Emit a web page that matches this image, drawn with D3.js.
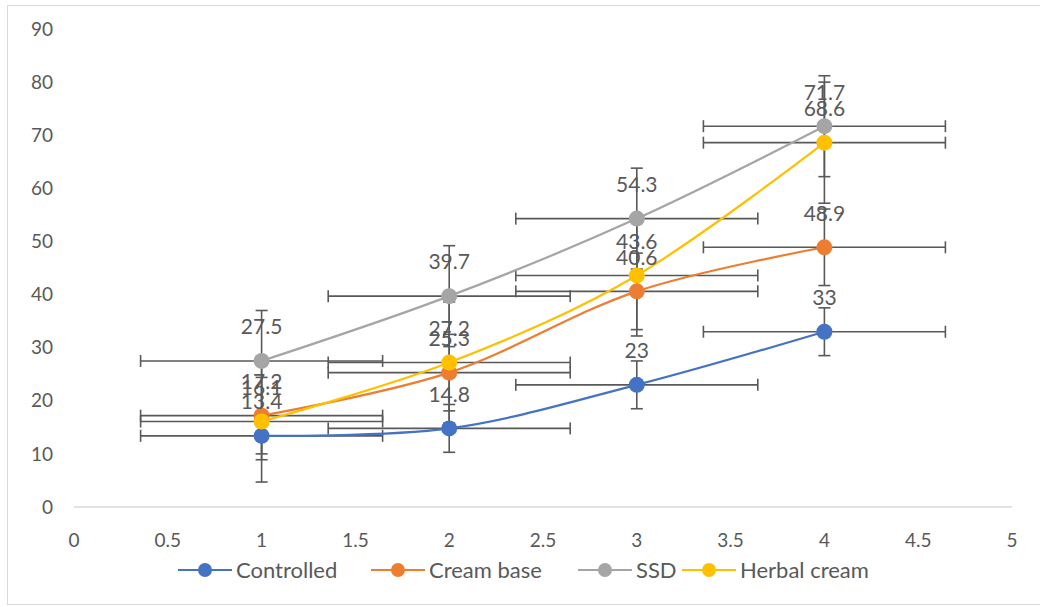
<!DOCTYPE html>
<html><head><meta charset="utf-8">
<script src="https://cdn.jsdelivr.net/npm/d3@7"></script>
<style>body{margin:0;background:#fff}svg{display:block}text{font-family:Lato,"Open Sans",sans-serif}</style>
</head><body><svg id="c" width="1040" height="607"></svg>
<script>
const xValues = [1, 2, 3, 4];
const seriesNames = ["Controlled", "Cream base", "SSD", "Herbal cream"];
const controlled = [13.4, 14.8, 23, 33];
const creamBase = [17.2, 25.3, 40.6, 48.9];
const ssd = [27.5, 39.7, 54.3, 71.7];
const herbalCream = [16.1, 27.2, 43.6, 68.6];
const yErrors = [4.5, 7.2, 9.5, 11.4];   // (per series)
const xError = 0.645;
const colors = ["#4472C4", "#ED7D31", "#A5A5A5", "#FFC000"];
const xTicks = [0, 0.5, 1, 1.5, 2, 2.5, 3, 3.5, 4, 4.5, 5];
const yTicks = [0, 10, 20, 30, 40, 50, 60, 70, 80, 90];

const seriesValues = [controlled, creamBase, ssd, herbalCream];
const series = seriesNames.map((n, i) => ({
  name: n, color: colors[i], err: yErrors[i],
  pts: xValues.map((x, j) => ({x, y: seriesValues[i][j]}))
}));

const svg = d3.select("#c");
const x = d3.scaleLinear().domain([0, 5]).range([74, 1012]);
const y = d3.scaleLinear().domain([0, 90]).range([507, 29]);
const txt = "#595959", barC = "#595959";

svg.append("rect").attr("x", 7.5).attr("y", 5.5).attr("width", 1040).attr("height", 599)
  .attr("fill", "#fff").attr("stroke", "#d9d9d9");

// x axis line
svg.append("line").attr("x1", x(0)).attr("x2", x(5)).attr("y1", y(0)).attr("y2", y(0))
  .attr("stroke", "#d9d9d9").attr("stroke-width", 1.5);

// tick labels
svg.append("g").selectAll("text").data(yTicks).join("text")
  .attr("x", 53).attr("y", d => y(d)).attr("dy", "0.35em").attr("text-anchor", "end")
  .attr("fill", txt).attr("font-size", 19).text(d => d);
svg.append("g").selectAll("text").data(xTicks).join("text")
  .attr("x", d => x(d)).attr("y", 540).attr("dy", "0.35em").attr("text-anchor", "middle")
  .attr("fill", txt).attr("font-size", 19).text(d => d);

// error bars
const eb = svg.append("g").attr("stroke", barC).attr("stroke-width", 1.6).attr("fill", "none");
const cap = 6;
series.forEach(s => {
  s.pts.forEach(p => {
    const cx = x(p.x), cy = y(p.y);
    const x1 = x(p.x - xError), x2 = x(p.x + xError);
    eb.append("line").attr("x1", x1).attr("x2", x2).attr("y1", cy).attr("y2", cy);
    eb.append("line").attr("x1", x1).attr("x2", x1).attr("y1", cy - cap).attr("y2", cy + cap);
    eb.append("line").attr("x1", x2).attr("x2", x2).attr("y1", cy - cap).attr("y2", cy + cap);
    const y1 = y(p.y - s.err), y2 = y(p.y + s.err);
    eb.append("line").attr("x1", cx).attr("x2", cx).attr("y1", y1).attr("y2", y2);
    eb.append("line").attr("x1", cx - cap).attr("x2", cx + cap).attr("y1", y1).attr("y2", y1);
    eb.append("line").attr("x1", cx - cap).attr("x2", cx + cap).attr("y1", y2).attr("y2", y2);
  });
});

// lines
const line = d3.line().x(d => x(d.x)).y(d => y(d.y)).curve(d3.curveCatmullRom.alpha(0));
svg.append("g").selectAll("path").data(series).join("path")
  .attr("d", d => line(d.pts)).attr("fill", "none").attr("stroke", d => d.color).attr("stroke-width", 2.2);

// markers
series.forEach(s => {
  svg.append("g").selectAll("circle").data(s.pts).join("circle")
    .attr("cx", d => x(d.x)).attr("cy", d => y(d.y)).attr("r", 8).attr("fill", s.color);
});

// data labels
series.forEach(s => {
  svg.append("g").selectAll("text").data(s.pts).join("text")
    .attr("x", d => x(d.x)).attr("y", d => y(d.y) - 34).attr("dy", "0.35em")
    .attr("text-anchor", "middle").attr("fill", txt).attr("font-size", 21).text(d => d.y);
});

// legend
const legX = [178, 371, 578, 682];
const lg = svg.append("g");
series.forEach((s, i) => {
  const g = lg.append("g").attr("transform", `translate(${legX[i]},570)`);
  g.append("line").attr("x1", 0).attr("x2", 54).attr("stroke", s.color).attr("stroke-width", 2.2);
  g.append("circle").attr("cx", 27).attr("r", 7).attr("fill", s.color);
  g.append("text").attr("x", 58).attr("dy", "0.35em").attr("fill", txt).attr("font-size", 22).text(s.name);
});
</script></body></html>
